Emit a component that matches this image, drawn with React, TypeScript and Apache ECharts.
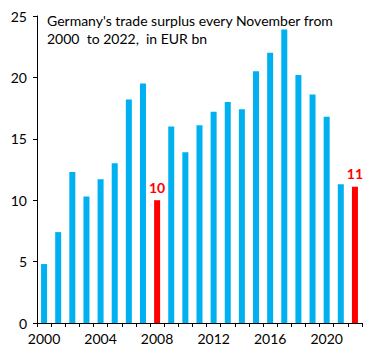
import React, { useEffect, useRef } from "react";
import * as echarts from "echarts";

const years = ["2000","2001","2002","2003","2004","2005","2006","2007","2008","2009","2010","2011","2012","2013","2014","2015","2016","2017","2018","2019","2020","2021","2022"];
const values = [4.8, 7.4, 12.3, 10.3, 11.7, 13.0, 18.2, 19.5, 10.0, 16.0, 13.9, 16.1, 17.2, 18.0, 17.4, 20.5, 22.0, 23.9, 20.2, 18.6, 16.8, 11.3, 11.1];
const highlighted = ["2008", "2022"];
const highlightLabels = ["10", "11"];
const titleText = "Germany's trade surplus every November from\n2000  to 2022,  in EUR bn";

const FONT = "Lato";

export default function App() {
  const ref = useRef<HTMLDivElement>(null);
  useEffect(() => {
    if (!ref.current) return;
    const chart = echarts.init(ref.current, null, { renderer: "svg" });
    const data = values.map((v, i) => {
      const hi = highlighted.indexOf(years[i]);
      if (hi >= 0) {
        return {
          value: v,
          itemStyle: { color: "#FF0000" },
          label: {
            show: true,
            position: "top",
            distance: 6,
            formatter: highlightLabels[hi],
            color: "#FF0000",
            fontWeight: "bold",
            fontSize: 14,
            fontFamily: FONT,
          },
        };
      }
      return { value: v };
    });
    chart.setOption({
      animation: false,
      title: {
        text: titleText,
        left: 42,
        top: 6,
        textStyle: { fontSize: 14, lineHeight: 18, fontWeight: "normal", color: "#000", fontFamily: FONT },
      },
      grid: { left: 37, right: 22, top: 16, bottom: 37, containLabel: false },
      xAxis: {
        type: "category",
        data: years,
        boundaryGap: true,
        axisLine: { lineStyle: { color: "#000", width: 1 } },
        axisTick: { show: true, interval: 0, length: 4, lineStyle: { color: "#000" } },
        axisLabel: { interval: 3, color: "#000", fontSize: 14, fontFamily: FONT, margin: 8 },
      },
      yAxis: {
        type: "value",
        min: 0,
        max: 25,
        interval: 5,
        splitLine: { show: false },
        axisLine: { show: true, lineStyle: { color: "#000", width: 1 } },
        axisTick: { show: true, length: 4, lineStyle: { color: "#000" } },
        axisLabel: { color: "#000", fontSize: 14, fontFamily: FONT, margin: 10 },
      },
      series: [
        {
          type: "bar",
          data,
          barWidth: 6,
          itemStyle: { color: "#00B0F0" },
        },
      ],
    });
    return () => chart.dispose();
  }, []);
  return <div ref={ref} style={{ width: 384, height: 360, margin: -8 }} />;
}
